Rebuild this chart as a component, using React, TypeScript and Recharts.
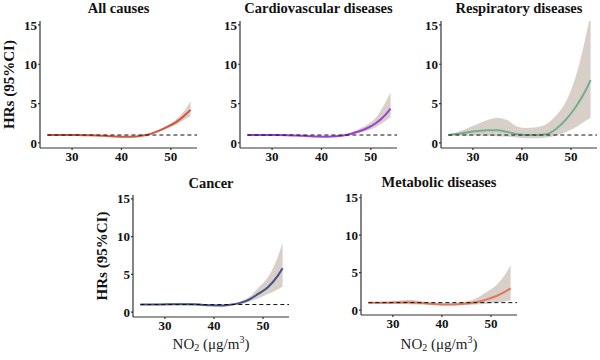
import {
  ComposedChart,
  Area,
  Line,
  XAxis,
  YAxis,
  ReferenceLine,
} from 'recharts';

// NO2 exposure grid (µg/m3)
const no2 = [25, 27, 29, 31, 33, 35, 37, 39, 41, 43, 45, 47, 49, 51, 53, 54];
const xTicks = [30, 40, 50];
const yTicks = [0, 5, 10, 15];

// All causes
const allHr = [1.0, 1.0, 1.0, 1.0, 0.98, 0.95, 0.88, 0.8, 0.77, 0.82, 1.0, 1.4, 1.95, 2.6, 3.6, 4.2];
const allLo = [0.97, 0.97, 0.97, 0.96, 0.94, 0.9, 0.83, 0.75, 0.72, 0.77, 0.94, 1.3, 1.8, 2.3, 3.05, 3.4];
const allHi = [1.03, 1.03, 1.03, 1.04, 1.02, 1.0, 0.93, 0.85, 0.82, 0.87, 1.06, 1.5, 2.15, 2.95, 4.3, 5.3];

// Cardiovascular diseases
const cvdHr = [1.0, 1.0, 1.0, 1.0, 0.98, 0.94, 0.87, 0.8, 0.78, 0.83, 1.0, 1.35, 1.8, 2.5, 3.6, 4.35];
const cvdLo = [0.96, 0.96, 0.96, 0.95, 0.92, 0.88, 0.8, 0.73, 0.71, 0.76, 0.92, 1.15, 1.5, 2.0, 2.8, 3.3];
const cvdHi = [1.04, 1.04, 1.04, 1.05, 1.04, 1.0, 0.94, 0.87, 0.85, 0.9, 1.1, 1.6, 2.2, 3.2, 5.2, 6.4];

// Respiratory diseases
const resHr = [1.0, 1.15, 1.35, 1.5, 1.6, 1.6, 1.4, 1.1, 1.0, 1.0, 1.1, 1.8, 3.0, 4.6, 6.7, 8.0];
const resLo = [0.95, 0.95, 0.95, 0.95, 0.9, 0.85, 0.8, 0.7, 0.6, 0.6, 0.7, 0.95, 1.4, 2.0, 2.8, 3.2];
const resHi = [1.05, 1.4, 1.9, 2.4, 2.9, 3.2, 2.9, 2.1, 1.9, 2.0, 2.4, 3.5, 5.3, 8.5, 13.5, 16.5];

// Cancer
const canHr = [1.0, 1.0, 1.02, 1.04, 1.05, 1.03, 1.0, 0.9, 0.88, 0.95, 1.15, 1.6, 2.4, 3.3, 4.8, 5.8];
const canLo = [0.95, 0.95, 0.94, 0.92, 0.9, 0.88, 0.85, 0.8, 0.75, 0.82, 1.0, 1.35, 1.8, 2.4, 3.0, 3.4];
const canHi = [1.05, 1.07, 1.1, 1.18, 1.25, 1.2, 1.15, 1.05, 1.0, 1.05, 1.3, 1.9, 3.2, 4.6, 7.3, 9.2];

// Metabolic diseases
const metHr = [1.0, 1.0, 1.0, 1.02, 1.05, 1.0, 0.9, 0.8, 0.75, 0.78, 0.88, 1.05, 1.4, 1.85, 2.5, 2.9];
const metLo = [0.95, 0.92, 0.88, 0.82, 0.8, 0.75, 0.7, 0.65, 0.62, 0.63, 0.68, 0.75, 0.85, 1.0, 1.2, 1.3];
const metHi = [1.05, 1.1, 1.15, 1.25, 1.35, 1.3, 1.1, 0.95, 0.9, 0.95, 1.15, 1.6, 2.4, 3.3, 4.9, 6.0];

const FONT = '"Liberation Serif", "Times New Roman", serif';
const BAND = '#d8d0c8';

const makeRows = (hr: number[], lo: number[], hi: number[]) =>
  no2.map((x, i) => ({ x, hr: hr[i], band: [lo[i], hi[i]] }));

type PanelProps = {
  title: string;
  hr: number[];
  lo: number[];
  hi: number[];
  color: string;
  plotLeft: number;
  plotTop: number;
  plotW: number;
  plotH: number;
  titleY: number;
  yLabel?: boolean;
  xLabel?: boolean;
  xLabelY?: number;
};

function Panel(p: PanelProps) {
  const data = makeRows(p.hr, p.lo, p.hi);
  const yAxisW = 40;
  const top = 20;
  const xAxisH = 24;
  const left = p.plotLeft - yAxisW;
  const chartTop = p.plotTop - top;
  const width = yAxisW + p.plotW + 4;
  const height = top + p.plotH + xAxisH;
  const tickStyle = { fontFamily: FONT, fontSize: 13, fontWeight: 'bold', fill: '#111' };

  return (
    <>
      <div
        style={{
          position: 'absolute',
          left: p.plotLeft,
          width: p.plotW,
          top: p.titleY - 9,
          height: 18,
          lineHeight: '18px',
          textAlign: 'center',
          fontFamily: FONT,
          fontWeight: 'bold',
          fontSize: 14.5,
          color: '#111',
          whiteSpace: 'nowrap',
        }}
      >
        {p.title}
      </div>
      <div style={{ position: 'absolute', left, top: chartTop }}>
        <ComposedChart
          width={width}
          height={height}
          data={data}
          margin={{ top, right: 4, bottom: 0, left: 0 }}
        >
          <XAxis
            dataKey="x"
            type="number"
            domain={[23.5, 55.3]}
            ticks={xTicks}
            allowDataOverflow
            height={xAxisH}
            tickSize={2}
            tickMargin={2}
            stroke="#333"
            strokeWidth={1.2}
            tick={tickStyle}
          />
          <YAxis
            type="number"
            domain={[-0.65, 15.5]}
            ticks={yTicks}
            allowDataOverflow
            width={yAxisW}
            tickSize={2}
            tickMargin={1}
            stroke="#333"
            strokeWidth={1.2}
            tick={tickStyle}
            label={
              p.yLabel
                ? {
                    value: 'HRs (95%CI)',
                    angle: -90,
                    position: 'insideLeft',
                    offset: 9,
                    style: {
                      textAnchor: 'middle',
                      fontFamily: FONT,
                      fontWeight: 'bold',
                      fontSize: 15,
                      fill: '#111',
                    },
                  }
                : undefined
            }
          />
          <Area
            dataKey="band"
            stroke="none"
            fill={BAND}
            fillOpacity={1}
            type="monotone"
            isAnimationActive={false}
          />
          <Line
            dataKey="hr"
            stroke={p.color}
            strokeWidth={2}
            dot={false}
            type="monotone"
            isAnimationActive={false}
          />
          <ReferenceLine
            segment={[
              { x: 25, y: 1 },
              { x: 55.3, y: 1 },
            ]}
            stroke="#111"
            strokeWidth={1}
            strokeDasharray="4 3"
          />
        </ComposedChart>
      </div>
      {p.xLabel && (
        <div
          style={{
            position: 'absolute',
            left: p.plotLeft,
            width: p.plotW,
            top: (p.xLabelY ?? 340) - 10,
            height: 20,
            lineHeight: '20px',
            textAlign: 'center',
            fontFamily: FONT,
            fontSize: 15,
            color: '#222',
            whiteSpace: 'nowrap',
          }}
        >
          NO<sub style={{ fontSize: 10, verticalAlign: '-2px' }}>2</sub> (μg/m
          <sup style={{ fontSize: 10, verticalAlign: '6px' }}>3</sup>)
        </div>
      )}
    </>
  );
}

export default function App() {
  return (
    <div
      style={{
        position: 'absolute',
        left: 0,
        top: 0,
        width: 600,
        height: 360,
        background: '#fff',
        overflow: 'hidden',
      }}
    >
      <Panel title="All causes" hr={allHr} lo={allLo} hi={allHi} color="#d6553a"
        plotLeft={40} plotTop={21} plotW={157} plotH={127} titleY={8} yLabel />
      <Panel title="Cardiovascular diseases" hr={cvdHr} lo={cvdLo} hi={cvdHi} color="#9d3fd4"
        plotLeft={240} plotTop={21} plotW={157} plotH={127} titleY={8} />
      <Panel title="Respiratory diseases" hr={resHr} lo={resLo} hi={resHi} color="#6fae90"
        plotLeft={441} plotTop={21} plotW={156} plotH={127} titleY={8} />
      <Panel title="Cancer" hr={canHr} lo={canLo} hi={canHi} color="#44508a"
        plotLeft={133} plotTop={195} plotW={156} plotH={122} titleY={183} yLabel xLabel xLabelY={340} />
      <Panel title="Metabolic diseases" hr={metHr} lo={metLo} hi={metHi} color="#e0785a"
        plotLeft={361} plotTop={194} plotW={156} plotH={121} titleY={182} xLabel xLabelY={340} />
    </div>
  );
}
